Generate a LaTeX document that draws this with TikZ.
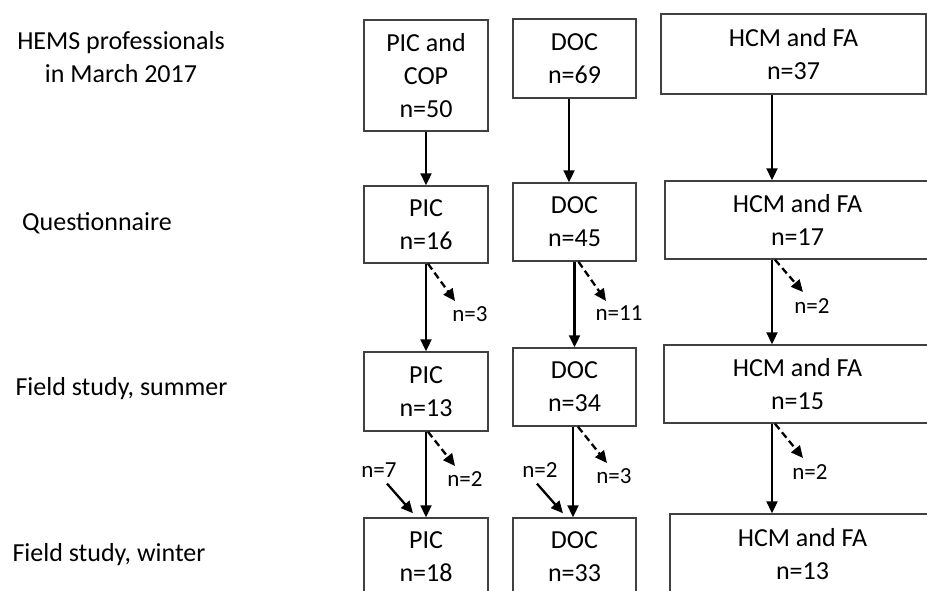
\documentclass[tikz,border=0pt]{standalone}
\usepackage{fontspec}
\setmainfont{Carlito}
\usetikzlibrary{arrows.meta}

\begin{document}
\begin{tikzpicture}[x=1pt,y=-1pt,
  box/.style={draw=black!75,line width=1.5pt,inner sep=0pt,align=center,font=\fontsize{26}{33}\selectfont},
  stage/.style={align=center,inner sep=0pt,font=\fontsize{26}{33}\selectfont},
  count/.style={inner sep=1pt,font=\fontsize{23}{28}\selectfont},
  flow/.style={line width=2.3pt,-{Triangle[length=12pt,width=11pt]}},
  drop/.style={flow,dash pattern=on 7pt off 4pt}]
\clip (0,0) rectangle (927,590);
% stages
\node[stage] (s1) at (121,57) {HEMS professionals\\in March 2017};
\node[stage] (s2) at (97,223) {Questionnaire};
\node[stage] (s3) at (121.5,389) {Field study, summer};
\node[stage] (s4) at (109,555) {Field study, winter};
% PIC column
\node[box,minimum width=124pt,minimum height=111pt] (p1) at (426,75.5) {PIC and\\COP\\n=50};
\node[box,minimum width=124pt,minimum height=77pt] (p2) at (426,224.5) {PIC\\n=16};
\node[box,minimum width=124pt,minimum height=79pt] (p3) at (426,391.5) {PIC\\n=13};
\node[box,minimum width=124pt,minimum height=78pt] (p4) at (426,557) {PIC\\n=18};
% DOC column
\node[box,minimum width=123pt,minimum height=79pt] (d1) at (574.5,58.5) {DOC\\n=69};
\node[box,minimum width=123pt,minimum height=78pt] (d2) at (574.5,222) {DOC\\n=45};
\node[box,minimum width=123pt,minimum height=78pt] (d3) at (574.5,387) {DOC\\n=34};
\node[box,minimum width=123pt,minimum height=78pt] (d4) at (574.5,557) {DOC\\n=33};
% HCM column
\node[box,minimum width=265pt,minimum height=80pt] (h1) at (793.5,54) {HCM and FA\\n=37};
\node[box,minimum width=265pt,minimum height=78pt] (h2) at (797.5,220) {HCM and FA\\n=17};
\node[box,minimum width=267pt,minimum height=78pt] (h3) at (797.5,384) {HCM and FA\\n=15};
\node[box,minimum width=265pt,minimum height=80pt] (h4) at (802.5,554) {HCM and FA\\n=13};
\coordinate (c3) at (772,0);
% main flow
\draw[flow] (p1.south) -- (p2.north);
\draw[flow] (p2.south) -- (p3.north);
\draw[flow] (p3.south) -- (p4.north);
\draw[flow] ([xshift=-5.5pt]d1.south) -- ([xshift=-5.5pt]d2.north);
\draw[flow] (d2.south) -- (d3.north);
\draw[flow] ([xshift=-1.5pt]d3.south) -- ([xshift=-1.5pt]d4.north);
\draw[flow] (h1.south -| c3) -- (h2.north -| c3);
\draw[flow] (h2.south -| c3) -- (h3.north -| c3);
\draw[flow] (h3.south -| c3) -- (h4.north -| c3);
% drop-outs
\node[count] (q1) at (470,314) {n=3};
\node[count] (q2) at (619,313) {n=11};
\node[count] (q3) at (812,306) {n=2};
\node[count] (q4) at (465,479) {n=2};
\node[count] (q5) at (614,476) {n=3};
\node[count] (q6) at (810,472) {n=2};
\coordinate (t1) at (455,301);
\coordinate (t2) at (606,301);
\coordinate (t3) at (803,292);
\coordinate (t4) at (455,466);
\coordinate (t5) at (607,463);
\coordinate (t6) at (803,458);
\draw[drop] ([xshift=2pt]p2.south) -- (t1);
\draw[drop] ([xshift=4pt]d2.south) -- (t2);
\draw[drop] ([xshift=3pt]h2.south -| c3) -- (t3);
\draw[drop] ([xshift=2pt]p3.south) -- (t4);
\draw[drop] ([xshift=3.5pt]d3.south) -- (t5);
\draw[drop] ([xshift=3pt]h3.south -| c3) -- (t6);
% new participants
\node[count] (k1) at (379,470) {n=7};
\node[count] (k2) at (540,470) {n=2};
\draw[flow] ([xshift=8pt,yshift=-5pt]k1.south) -- ([xshift=-13pt,yshift=4pt]p4.north);
\draw[flow] ([xshift=-3pt,yshift=-5pt]k2.south) -- ([xshift=-11.5pt,yshift=4pt]d4.north);
\end{tikzpicture}
\end{document}
